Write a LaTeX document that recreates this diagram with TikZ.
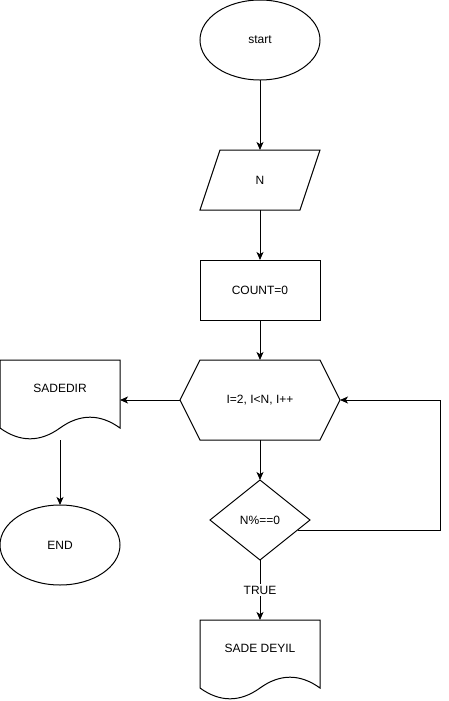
\documentclass[tikz,border=0pt]{standalone}
\usepackage{fontspec}
\setmainfont{Liberation Sans}
\usetikzlibrary{shapes.geometric,arrows.meta,calc}
\tikzset{
  base/.style={draw=none, inner sep=0pt, outer sep=0pt, font=\fontsize{9pt}{10.8pt}\selectfont, text=black},
  term/.style={base, draw, ellipse, minimum width=90pt, minimum height=60pt},
  box/.style={base, rectangle, minimum width=90pt, minimum height=45pt},
  procbox/.style={box, draw},
  hexbox/.style={base, rectangle, minimum width=120pt, minimum height=60pt},
  docbox/.style={base, rectangle, minimum width=90pt, minimum height=60pt},
  decbox/.style={base, draw, diamond, minimum width=75pt, minimum height=60pt},
  txt/.style={base},
  line/.style={line width=0.75pt, line join=miter},
  arr/.style={line, -{Stealth[length=6pt, width=5.25pt, inset=1.6pt]}},
}
\begin{document}
\begin{tikzpicture}[x=0.75pt, y=-0.75pt, line width=0.75pt]
\useasboundingbox (0,0) rectangle (449,701);
% nodes
\node[term] (start) at (260,40) {start};
\node[box] (inp) at (260,180) {N};
\draw[line] ([xshift=15pt]inp.north west) -- (inp.north east) -- ([xshift=-15pt]inp.south east) -- (inp.south west) -- cycle;
\node[procbox] (cnt) at (260,290) {COUNT=0};
\node[hexbox] (hex) at (260,400) {I=2, I<N, I++};
\draw[line] (hex.west) -- ([xshift=15pt]hex.north west) -- ([xshift=-15pt]hex.north east) -- (hex.east) -- ([xshift=-15pt]hex.south east) -- ([xshift=15pt]hex.south west) -- cycle;
\node[decbox] (dia) at (260,520) {N\%==0};
% document SADEDIR
\node[docbox] (doca) at (60,400) {};
\node[txt] (docat) at (60,388) {SADEDIR};
\begin{scope}[shift={(doca.north west)}]
\draw[line] (0,0) -- (120,0) -- (120,68) .. controls (100,53.6) and (80,53.6) .. (60,68) .. controls (40,82.4) and (20,82.4) .. (0,68) -- cycle;
\end{scope}
\node[term] (fin) at (60,545) {END};
% document SADE DEYIL
\node[docbox] (docb) at (260,660) {};
\node[txt] (docbt) at (260,648) {SADE DEYIL};
\begin{scope}[shift={(docb.north west)}]
\draw[line] (0,0) -- (120,0) -- (120,68) .. controls (100,53.6) and (80,53.6) .. (60,68) .. controls (40,82.4) and (20,82.4) .. (0,68) -- cycle;
\end{scope}
% connectors
\draw[arr] (start.south) -- (inp.north);
\draw[arr] (inp.south) -- (cnt.north);
\draw[arr] (cnt.south) -- (hex.north);
\draw[arr] (hex.south) -- (dia.north);
\draw[arr] (hex.west) -- (doca.east);
\draw[arr] (doca.south) -- (fin.north);
\coordinate (loopa) at ($(dia.east)!0.25!(dia.south)$);
\coordinate (loopc) at (440,530);
\draw[arr] (loopa) -- (loopc) |- (hex.east);
\draw[arr] (dia.south) -- node[txt, fill=white, inner sep=1.5pt] (tl) {TRUE} (docb.north);
\end{tikzpicture}
\end{document}
